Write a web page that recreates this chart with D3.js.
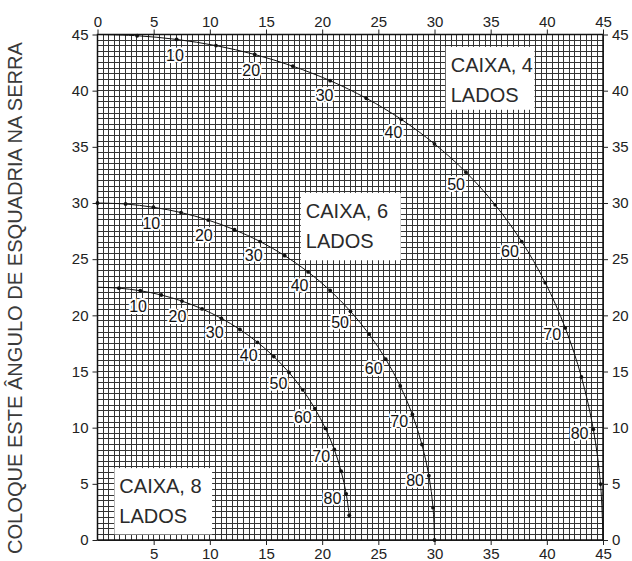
<!DOCTYPE html>
<html><head><meta charset="utf-8">
<script src="https://cdn.jsdelivr.net/npm/d3@7"></script>
<style>
html,body{margin:0;padding:0;background:#fff;}
svg{display:block;}
text{font-family:"Liberation Sans",Arial,Helvetica,sans-serif;}
</style></head>
<body>
<script>
// ---- data ----
const slopeAngles = [0,5,10,15,20,25,30,35,40,45,50,55,60,65,70,75,80,85,90];
const labelAngles = [10,20,30,40,50,60,70,80];
const box4X = [0,3.53,7.05,10.55,14.00,17.39,20.71,23.93,27.04,30.00,32.80,35.40,37.76,39.86,41.64,43.08,44.14,44.78,45];
const box4Y = [45,44.89,44.56,44.01,43.22,42.18,40.89,39.32,37.45,35.26,32.74,29.84,26.57,22.91,18.88,14.51,9.85,4.98,0];
const box6X = [0,2.50,4.98,7.44,9.85,12.20,14.48,16.67,18.75,20.71,22.52,24.18,25.66,26.95,28.03,28.88,29.50,29.87,30];
const box6Y = [30,29.91,29.62,29.15,28.48,27.62,26.57,25.31,23.86,22.21,20.36,18.32,16.10,13.71,11.17,8.50,5.73,2.88,0];
const box8X = [0,1.91,3.81,5.68,7.52,9.31,11.03,12.68,14.24,15.70,17.05,18.27,19.35,20.29,21.08,21.69,22.14,22.41];
const box8Y = [22.5,22.42,22.19,21.81,21.27,20.57,19.73,18.74,17.60,16.33,14.91,13.37,11.70,9.93,8.06,6.12,4.11,2.2];
const axisTicks = [0,5,10,15,20,25,30,35,40,45];
const bottomTicks = [5,10,15,20,25,30,35,40,45];
const boxNames = [["CAIXA, 4","LADOS"],["CAIXA, 6","LADOS"],["CAIXA, 8","LADOS"]];
const yTitle = "COLOQUE ESTE ÂNGULO DE ESQUADRIA NA SERRA";

// ---- layout ----
const W = 632, H = 561;
const x = d3.scaleLinear().domain([0,45]).range([97.5,603]);
const y = d3.scaleLinear().domain([0,45]).range([540,34.5]);

const svg = d3.select("body").append("svg").attr("width",W).attr("height",H);

// grid
const gridVals = d3.range(0,45.01,0.5);
const g = svg.append("g");
g.selectAll("line.v").data(gridVals).join("line")
  .attr("x1",d=>x(d)).attr("x2",d=>x(d)).attr("y1",y(0)).attr("y2",y(45))
  .attr("stroke","#333").attr("stroke-width",1).attr("shape-rendering","crispEdges");
g.selectAll("line.h").data(gridVals).join("line")
  .attr("y1",d=>y(d)).attr("y2",d=>y(d)).attr("x1",x(0)).attr("x2",x(45))
  .attr("stroke","#333").attr("stroke-width",1).attr("shape-rendering","crispEdges");

// frame
svg.append("rect").attr("x",x(0)).attr("y",y(45)).attr("width",x(45)-x(0)).attr("height",y(0)-y(45))
  .attr("fill","none").attr("stroke","#111").attr("stroke-width",1.5);

// axes
const axTop = d3.axisTop(x).tickValues(axisTicks).tickSize(5).tickPadding(3);
const axBot = d3.axisBottom(x).tickValues(bottomTicks).tickSize(5).tickPadding(3);
const axL = d3.axisLeft(y).tickValues(axisTicks).tickSize(5).tickPadding(4);
const axR = d3.axisRight(y).tickValues(axisTicks).tickSize(5).tickPadding(4);
function styleAxis(sel){
  sel.select(".domain").remove();
  sel.selectAll("line").attr("stroke","#222");
  sel.selectAll("text").attr("fill","#222").style("font-size","15px").style("font-family","Liberation Sans, Arial, sans-serif");
}
svg.append("g").attr("transform",`translate(0,${y(45)})`).call(axTop).call(styleAxis);
svg.append("g").attr("transform",`translate(0,${y(0)})`).call(axBot).call(styleAxis);
svg.append("g").attr("transform",`translate(${x(0)},0)`).call(axL).call(styleAxis);
svg.append("g").attr("transform",`translate(${x(45)},0)`).call(axR).call(styleAxis);

// boxes (white label panels)
const panels = [
  {names:boxNames[0], x0:31.0, x1:38.9, y0:38.3, y1:43.9},
  {names:boxNames[1], x0:18.1, x1:27.0, y0:24.9, y1:30.9},
  {names:boxNames[2], x0:1.5, x1:10.2, y0:0.5, y1:6.4}
];
panels.forEach(p=>{
  svg.append("rect").attr("x",x(p.x0)).attr("y",y(p.y1)).attr("width",x(p.x1)-x(p.x0)).attr("height",y(p.y0)-y(p.y1))
    .attr("fill","#fff");
  const tx = x(p.x0)+5, ty = y(p.y1)+25;
  p.names.forEach((t,i)=>{
    svg.append("text").attr("x",tx).attr("y",ty+i*30).text(t)
      .attr("fill","#2a2a2a").style("font-size","20px");
  });
});

// curves
const series = [
  {xs:box4X, ys:box4Y, dotFrom:1, dotTo:17},
  {xs:box6X, ys:box6Y, dotFrom:0, dotTo:18},
  {xs:box8X, ys:box8Y, dotFrom:1, dotTo:17}
];
const line = d3.line().x(d=>x(d[0])).y(d=>y(d[1])).curve(d3.curveCatmullRom);
series.forEach(s=>{
  const pts = s.xs.map((v,i)=>[v,s.ys[i],slopeAngles[i]]);
  svg.append("path").datum(pts).attr("d",line).attr("fill","none").attr("stroke","#111").attr("stroke-width",1);
  svg.append("g").selectAll("circle").data(pts.filter((d,i)=>i>=s.dotFrom && i<=s.dotTo)).join("circle")
    .attr("cx",d=>x(d[0])).attr("cy",d=>y(d[1])).attr("r",1.9).attr("fill","#111");
  // labels
  const lab = svg.append("g");
  pts.forEach((d,i)=>{
    if(!labelAngles.includes(d[2])) return;
    const a = pts[i-1], b = pts[i+1];
    let tx = x(b[0])-x(a[0]), ty = y(b[1])-y(a[1]);
    const L = Math.hypot(tx,ty); tx/=L; ty/=L;
    const nx = -ty, ny = tx;
    const px = x(d[0]) + nx*14, py = y(d[1]) + ny*14 + 2;
    lab.append("text").attr("x",px).attr("y",py).text(d[2])
      .attr("text-anchor","middle").attr("dominant-baseline","central")
      .style("font-size","16px").attr("fill","#111")
      .attr("stroke","#fff").attr("stroke-width",4).attr("stroke-linejoin","round")
      .style("paint-order","stroke");
  });
});

// y title
svg.append("text").attr("transform",`translate(22,42) rotate(-90)`)
  .attr("text-anchor","end").text(yTitle)
  .attr("textLength",512).attr("lengthAdjust","spacingAndGlyphs")
  .attr("fill","#3a3a3a").style("font-size","20px");
</script>
</body></html>
